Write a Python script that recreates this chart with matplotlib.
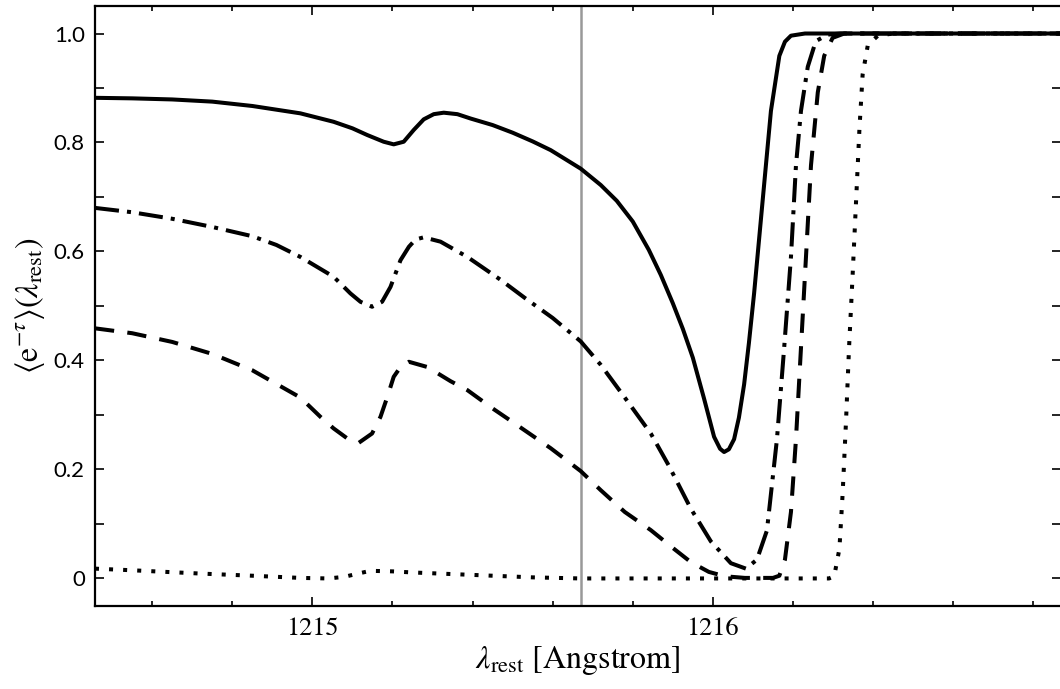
import matplotlib
matplotlib.use("Agg")
import matplotlib.pyplot as plt
from matplotlib.ticker import MultipleLocator, FixedLocator

plt.rcParams['mathtext.fontset'] = 'stix'

# ---- data ----
solid_x = [1214.457, 1214.55, 1214.65, 1214.75, 1214.85, 1214.97, 1215.053, 1215.10, 1215.137,
           1215.178, 1215.203, 1215.228, 1215.253, 1215.278, 1215.303, 1215.328, 1215.362,
           1215.395, 1215.45, 1215.50, 1215.55, 1215.595, 1215.67, 1215.72, 1215.76, 1215.80,
           1215.84, 1215.87, 1215.90, 1215.925, 1215.95, 1215.978, 1216.003, 1216.018, 1216.028,
           1216.04, 1216.053, 1216.065, 1216.078, 1216.09, 1216.103, 1216.124, 1216.145, 1216.166,
           1216.18, 1216.195, 1216.23, 1216.87]
solid_y = [0.882, 0.881, 0.879, 0.875, 0.867, 0.8535, 0.838, 0.826, 0.8137,
           0.8014, 0.7966, 0.8014, 0.823, 0.8425, 0.852, 0.8547, 0.852,
           0.844, 0.832, 0.818, 0.802, 0.786, 0.752, 0.722, 0.693, 0.655,
           0.603, 0.557, 0.505, 0.458, 0.405, 0.330, 0.2600, 0.238, 0.232,
           0.237, 0.2555, 0.295, 0.356, 0.432, 0.5235, 0.691, 0.858, 0.959,
           0.985, 0.996, 1.0, 1.0]

dashdot_x = [1214.457, 1214.55, 1214.65, 1214.75, 1214.85, 1214.91, 1214.97, 1215.053, 1215.095,
             1215.12, 1215.149, 1215.174, 1215.195, 1215.22, 1215.241, 1215.2575, 1215.278,
             1215.32, 1215.387, 1215.47, 1215.53, 1215.60, 1215.67, 1215.72, 1215.78, 1215.845,
             1215.89, 1215.945, 1215.995, 1216.045, 1216.0825, 1216.11, 1216.135, 1216.16,
             1216.178, 1216.195, 1216.2075, 1216.22, 1216.237, 1216.257, 1216.287, 1216.32,
             1216.87]
dashdot_y = [0.680, 0.672, 0.660, 0.645, 0.628, 0.612, 0.590, 0.5536, 0.523,
             0.5077, 0.4986, 0.5077, 0.535, 0.584, 0.6087, 0.622, 0.626,
             0.618, 0.590, 0.548, 0.515, 0.478, 0.435, 0.392, 0.332, 0.266,
             0.207, 0.128, 0.068, 0.028, 0.018, 0.0345, 0.088, 0.2555,
             0.423, 0.590, 0.758, 0.858, 0.939, 0.986, 0.998, 1.0,
             1.0]

dashed_x = [1214.457, 1214.55, 1214.65, 1214.75, 1214.85, 1214.97, 1215.02, 1215.053, 1215.087,
            1215.116, 1215.149, 1215.17, 1215.187, 1215.203, 1215.22, 1215.241, 1215.287,
            1215.345, 1215.387, 1215.45, 1215.50, 1215.595, 1215.67, 1215.72, 1215.78, 1215.845,
            1215.90, 1215.945, 1215.99, 1216.03, 1216.08, 1216.15, 1216.166, 1216.18, 1216.195,
            1216.2075, 1216.22, 1216.2325, 1216.245, 1216.262, 1216.278, 1216.299, 1216.328,
            1216.87]
dashed_y = [0.459, 0.450, 0.434, 0.412, 0.382, 0.332, 0.2966, 0.2753, 0.257,
            0.249, 0.266, 0.2966, 0.333, 0.370, 0.388, 0.3976, 0.388,
            0.362, 0.3456, 0.312, 0.287, 0.239, 0.197, 0.162, 0.122, 0.0887,
            0.056, 0.030, 0.012, 0.004, 0.001, 0.001, 0.005, 0.0345, 0.122,
            0.2555, 0.423, 0.590, 0.758, 0.892, 0.959, 0.992, 1.0,
            1.0]

dotted_x = [1214.457, 1214.55, 1214.72, 1214.85, 1214.97, 1215.04, 1215.08, 1215.12, 1215.145,
            1215.20, 1215.25, 1215.35, 1215.45, 1215.55, 1215.67, 1216.29, 1216.303, 1216.316,
            1216.324, 1216.3325, 1216.34, 1216.349, 1216.3575, 1216.366, 1216.374, 1216.387,
            1216.412, 1216.45, 1216.87]
dotted_y = [0.018, 0.015, 0.009, 0.005, 0.001, 0.000, 0.003, 0.010, 0.014,
            0.013, 0.011, 0.008, 0.005, 0.002, 0.0, 0.0, 0.004, 0.0545,
            0.155, 0.289, 0.423, 0.557, 0.691, 0.825, 0.925, 0.979,
            0.996, 1.0, 1.0]

lya_center = 1215.67
xlim = (1214.456, 1216.87)
ylim = (-0.05, 1.051)
ytick_vals = [0, 0.2, 0.4, 0.6, 0.8, 1.0]
ytick_labels = ["0", "0.2", "0.4", "0.6", "0.8", "1.0"]
xtick_vals = [1215, 1216]
xtick_labels = ["1215", "1216"]

# ---- figure ----
fig = plt.figure(figsize=(10.6, 6.89), dpi=100)
ax = fig.add_axes([0.0892, 0.1209, 0.912, 0.8708])

ax.axvline(lya_center, color='#999999', lw=1.8, zorder=1)

lw = 2.9
common = dict(color='black', lw=lw, solid_joinstyle='round', dash_joinstyle='round')
ax.plot(solid_x, solid_y, solid_capstyle='butt', **common)
ax.plot(dashdot_x, dashdot_y, linestyle=(0, (6.0, 2.0, 1.0, 2.0)), **common)
ax.plot(dashed_x, dashed_y, linestyle=(0, (4.8, 3.3)), **common)
ax.plot(dotted_x, dotted_y, linestyle=(0, (1.0, 2.5)), **common)

ax.set_xlim(*xlim)
ax.set_ylim(*ylim)

ax.xaxis.set_major_locator(FixedLocator(xtick_vals))
ax.set_xticklabels(xtick_labels, family='STIXGeneral', fontsize=19)
ax.xaxis.set_minor_locator(MultipleLocator(0.2))
ax.yaxis.set_major_locator(FixedLocator(ytick_vals))
ax.set_yticklabels(ytick_labels, family='Lato', fontsize=16)
ax.yaxis.set_minor_locator(MultipleLocator(0.1))

for s in ax.spines.values():
    s.set_linewidth(1.6)

ax.tick_params(which='both', direction='in', top=True, right=True, width=1.2)
ax.tick_params(which='major', length=6.5, pad=7)
ax.tick_params(axis='x', which='minor', length=3.5)
ax.tick_params(axis='y', which='minor', length=6.5)
ax.tick_params(axis='x', which='major', pad=8)

ax.set_xlabel(r'$\lambda_{\rm rest}$ [Angstrom]', family='STIXGeneral', fontsize=23, labelpad=2)
ax.set_ylabel(r'$\langle {\rm e}^{-\tau}\rangle(\lambda_{\rm rest})$', family='STIXGeneral',
              fontsize=23, labelpad=5)

fig.savefig('out.png', dpi=100)
